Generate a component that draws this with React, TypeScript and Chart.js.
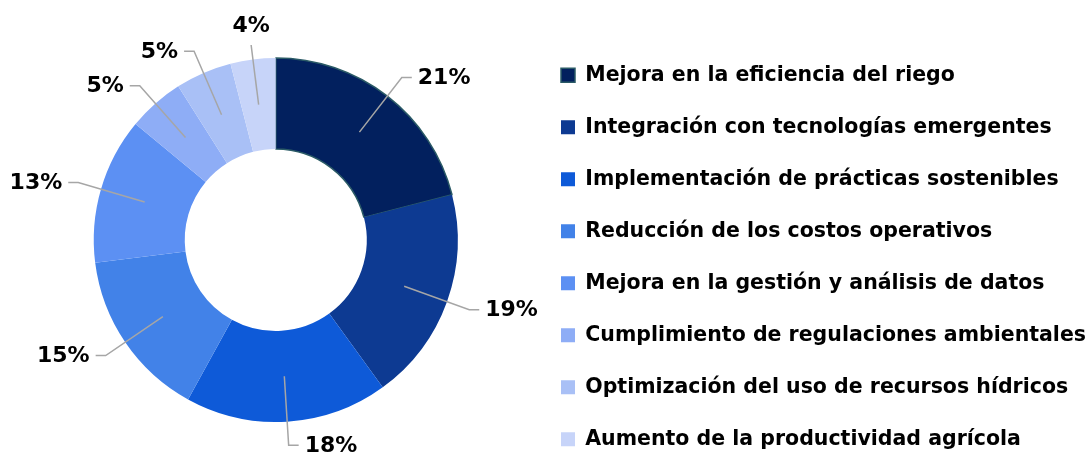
import React, { useEffect, useRef } from 'react';
import { Chart, registerables } from 'chart.js';

Chart.register(...registerables);

const categories = [
  'Mejora en la eficiencia del riego',
  'Integración con tecnologías emergentes',
  'Implementación de prácticas sostenibles',
  'Reducción de los costos operativos',
  'Mejora en la gestión y análisis de datos',
  'Cumplimiento de regulaciones ambientales',
  'Optimización del uso de recursos hídricos',
  'Aumento de la productividad agrícola',
];
const values = [21, 19, 18, 15, 13, 5, 5, 4];
const valueLabels = ['21%', '19%', '18%', '15%', '13%', '5%', '5%', '4%'];
const colors = ['#02205E', '#0D3A92', '#0E5AD8', '#4282E8', '#5C90F3', '#8EADF6', '#A9C0F6', '#C7D4F9'];
const borderColors = ['#2A5A66', '#0D3A92', '#0E5AD8', '#4282E8', '#5C90F3', '#8EADF6', '#A9C0F6', '#C7D4F9'];
const borderWidths = [1.5, 0, 0, 0, 0, 0, 0, 0];

const FONT = '"DejaVu Sans", "Liberation Sans", Arial, sans-serif';

const leaderPlugin = {
  id: 'leaderLabels',
  afterDatasetsDraw(chart: any) {
    const meta = chart.getDatasetMeta(0);
    const ctx = chart.ctx;
    ctx.save();
    meta.data.forEach((arc: any, i: number) => {
      const p = arc.getProps(['x', 'y', 'startAngle', 'endAngle', 'innerRadius', 'outerRadius'], true);
      const mid = (p.startAngle + p.endAngle) / 2;
      const c = Math.cos(mid);
      const s = Math.sin(mid);
      const r0 = (p.innerRadius + p.outerRadius) / 2;
      const topLabel = s < 0 && Math.abs(c) < 0.2;
      const r1 = p.outerRadius * (topLabel ? 1.08 : 1.13);
      const x0 = p.x + c * r0;
      const y0 = p.y + s * r0;
      const x1 = p.x + c * r1;
      const y1 = p.y + s * r1;
      ctx.strokeStyle = '#A6A6A6';
      ctx.lineWidth = 1.5;
      ctx.beginPath();
      ctx.moveTo(x0, y0);
      ctx.lineTo(x1, y1);
      ctx.font = `bold 22px ${FONT}`;
      ctx.fillStyle = '#000000';
      const label = valueLabels[i];
      if (topLabel) {
        ctx.stroke();
        ctx.textAlign = 'center';
        ctx.textBaseline = 'bottom';
        ctx.fillText(label, x1, y1 - 8);
      } else {
        const dir = c >= 0 ? 1 : -1;
        const x2 = x1 + dir * 10;
        ctx.lineTo(x2, y1);
        ctx.stroke();
        ctx.textAlign = dir > 0 ? 'left' : 'right';
        ctx.textBaseline = 'middle';
        ctx.fillText(label, x2 + dir * 6, y1 + 1);
      }
    });
    ctx.restore();
  },
};

export default function App() {
  const canvasRef = useRef<HTMLCanvasElement | null>(null);

  useEffect(() => {
    if (!canvasRef.current) return;
    const chart = new Chart(canvasRef.current, {
      type: 'doughnut',
      data: {
        labels: categories,
        datasets: [
          {
            data: values,
            backgroundColor: colors,
            borderColor: borderColors,
            borderWidth: borderWidths,
            radius: 182,
          } as any,
        ],
      },
      options: {
        animation: false,
        responsive: true,
        maintainAspectRatio: false,
        cutout: '50%',
        layout: { padding: { left: 22, right: -10, top: 12, bottom: -13 } },
        plugins: {
          tooltip: { enabled: false },
          legend: {
            position: 'right',
            align: 'end',
            maxWidth: 600,
            labels: {
              boxWidth: 14,
              boxHeight: 14,
              padding: 31.5,
              color: '#000000',
              font: { family: FONT, size: 20.5, weight: 'bold' },
            },
          },
        },
      } as any,
      plugins: [leaderPlugin],
    });
    return () => chart.destroy();
  }, []);

  return (
    <div style={{ position: 'fixed', left: 0, top: 0, width: 1086, height: 468, background: '#ffffff' }}>
      <canvas ref={canvasRef} />
    </div>
  );
}
